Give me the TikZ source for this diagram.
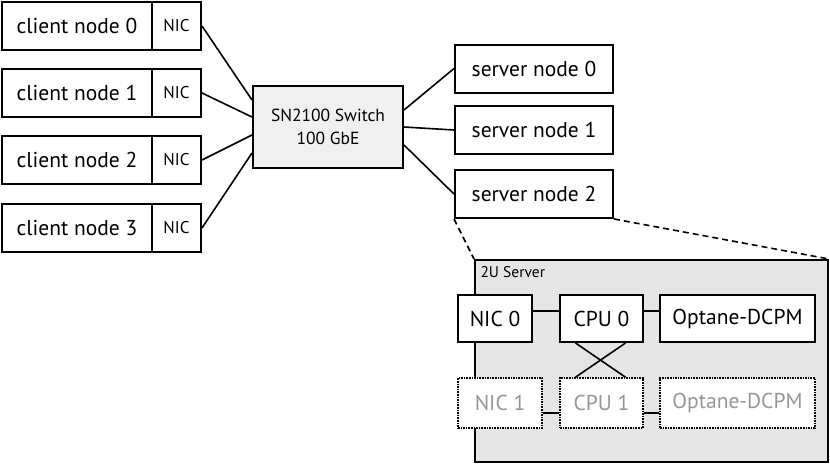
\documentclass[tikz,border=0pt]{standalone}
\usepackage{fontspec}
\setmainfont{PT Sans}
\usetikzlibrary{positioning, calc}
\definecolor{swgray}{RGB}{240, 240, 240}
\definecolor{srvgray}{RGB}{229, 229, 229}
\definecolor{offgray}{RGB}{150, 150, 150}

\begin{document}
\begin{tikzpicture}[
    x=1pt, y=-1pt,
    box/.style={rectangle, draw, line width=2pt, fill=white, minimum height=48pt, inner sep=0pt, font=\fontsize{21.5}{25}\selectfont},
    client/.style={box, minimum width=150pt},
    nic/.style={box, minimum width=49pt, font=\fontsize{17}{20}\selectfont},
    server/.style={box, minimum width=158pt},
    part/.style={box, minimum height=47pt, font=\fontsize{21.5}{25}\selectfont},
    spare/.style={part, line width=1.6pt, densely dotted, text=offgray, minimum height=50pt},
    link/.style={line width=1.6pt}
]
\useasboundingbox (0,0) rectangle (830,464);

% === Clientes ===
\node[client] (c0) at (77, 26) {client node 0};
\node[nic] (n0) at (176.5, 26) {NIC};
\node[client] (c1) at (77, 93) {client node 1};
\node[nic] (n1) at (176.5, 93) {NIC};
\node[client] (c2) at (77, 160) {client node 2};
\node[nic] (n2) at (176.5, 160) {NIC};
\node[client] (c3) at (77, 228) {client node 3};
\node[nic] (n3) at (176.5, 228) {NIC};

% === Switch ===
\node[box, fill=swgray, minimum width=150pt, minimum height=82pt, align=center, font=\fontsize{17.5}{23}\selectfont] (sw) at (328, 127) {SN2100 Switch\\100 GbE};

% === Servidores ===
\node[server] (s0) at (534, 68.5) {server node 0};
\node[server] (s1) at (534, 130) {server node 1};
\node[server] (s2) at (534, 194) {server node 2};

% Enlaces
\draw[link] (n0.east) -- ([yshift=27pt]sw.west);
\draw[link] (n1.east) -- ([yshift=10pt]sw.west);
\draw[link] (n2.east) -- ([yshift=-8pt]sw.west);
\draw[link] (n3.east) -- ([yshift=-26pt]sw.west);
\draw[link] ([yshift=17pt]sw.east) -- (s0.west);
\draw[link] (sw.east) -- (s1.west);
\draw[link] ([yshift=-18pt]sw.east) -- (s2.west);

% === Detalle 2U ===
\node[rectangle, draw, line width=2pt, fill=srvgray, minimum width=353pt, minimum height=202pt] (rack) at (651.5, 361) {};
\node[anchor=west, font=\fontsize{15.5}{18}\selectfont] (lbl) at (477, 272) {2U Server};
\draw[link, dash pattern=on 6pt off 4pt] (s2.south west) -- (rack.north west);
\draw[link, dash pattern=on 6pt off 4pt] (s2.south east) -- (rack.north east);

\node[part, minimum width=74pt] (nic0) at (495, 318.5) {NIC 0};
\node[part, minimum width=83pt] (cpu0) at (601.5, 318.5) {CPU 0};
\node[part, minimum width=155pt] (pm0) at (737.5, 318.5) {Optane-DCPM};
\node[spare, minimum width=84pt] (nic1) at (500, 403) {NIC 1};
\node[spare, minimum width=83pt] (cpu1) at (601.5, 403) {CPU 1};
\node[spare, minimum width=155pt] (pm1) at (737.5, 403) {Optane-DCPM};

\draw[link] ([yshift=7.5pt]nic0.east) -- ([yshift=7.5pt]cpu0.west);
\draw[link] ([yshift=7.5pt]cpu0.east) -- ([yshift=7.5pt]pm0.west);
\draw[link] ([yshift=-10pt]nic1.east) -- ([yshift=-10pt]cpu1.west);
\draw[link] ([yshift=-10pt]cpu1.east) -- ([yshift=-10pt]pm1.west);
\draw[link] ([xshift=-26pt]cpu0.south) -- ([xshift=24pt]cpu1.north);
\draw[link] ([xshift=24pt]cpu0.south) -- ([xshift=-26pt]cpu1.north);

\end{tikzpicture}
\end{document}
